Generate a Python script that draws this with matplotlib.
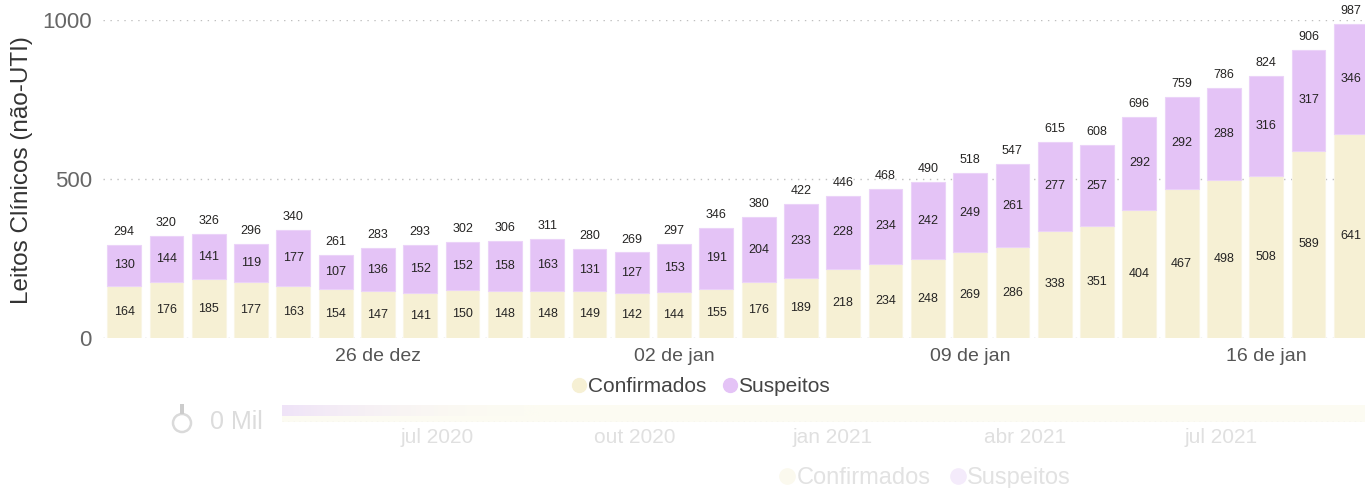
import matplotlib
matplotlib.use("Agg")
import matplotlib.pyplot as plt
import matplotlib.dates as mdates
from matplotlib.lines import Line2D
from matplotlib.patches import Ellipse, Rectangle
import numpy as np
import datetime as dt

# ---------------- data ----------------
dates = [dt.date(2020, 12, 20) + dt.timedelta(days=i) for i in range(30)]
confirmados = [164, 176, 185, 177, 163, 154, 147, 141, 150, 148, 148, 149, 142, 144, 155,
               176, 189, 218, 234, 248, 269, 286, 338, 351, 404, 467, 498, 508, 589, 641]
suspeitos = [130, 144, 141, 119, 177, 107, 136, 152, 152, 158, 163, 131, 127, 153, 191,
             204, 233, 228, 234, 242, 249, 261, 277, 257, 292, 292, 288, 316, 317, 346]
totais = [294, 320, 326, 296, 340, 261, 283, 293, 302, 306, 311, 280, 269, 297, 346,
          380, 422, 446, 468, 490, 518, 547, 615, 608, 696, 759, 786, 824, 906, 987]
xtick_labels = ["26 de dez", "02 de jan", "09 de jan", "16 de jan"]
xtick_idx = [6, 13, 20, 27]
yticks = [0, 500, 1000]
series_names = ["Confirmados", "Suspeitos"]
slider_months = [dt.date(2020, 7, 1), dt.date(2020, 10, 1), dt.date(2021, 1, 1),
                 dt.date(2021, 4, 1), dt.date(2021, 7, 1)]
slider_labels = ["jul 2020", "out 2020", "jan 2021", "abr 2021", "jul 2021"]

C_CONF = "#F6F0D4"
C_SUSP = "#E4C3F6"
FONT = ["Liberation Sans", "DejaVu Sans"]
plt.rcParams["font.family"] = FONT

W, H = 1365, 488
fig = plt.figure(figsize=(W / 100, H / 100), dpi=100)

def fx(px):
    return px / W

def fy(py):
    return 1 - py / H

# ---------------- main axes ----------------
ax = fig.add_axes([fx(103), fy(338), fx(1372 - 103), (338 - 20) / H])
x = np.arange(len(dates))
ax.bar(x, confirmados, width=0.8, color=C_CONF, edgecolor="#F9F5E4", linewidth=0.8, zorder=2)
ax.bar(x, suspeitos, width=0.8, bottom=confirmados, color=C_SUSP, edgecolor="#EBD3F8",
       linewidth=0.8, zorder=2)

ax.set_xlim(-0.5, len(dates) - 0.5)
ax.set_ylim(0, 1000)
for s in ax.spines.values():
    s.set_visible(False)
for yv in yticks:
    ax.axhline(yv, color="#BFBFBF", linestyle=(0, (1, 4)), linewidth=1.0, zorder=1)

ax.set_yticks(yticks)
ax.set_yticklabels([str(v) for v in yticks], fontsize=16, color="#666666")
ax.set_xticks(xtick_idx)
ax.set_xticklabels(xtick_labels, fontsize=14, color="#555555")
ax.tick_params(axis="both", length=0)
ax.tick_params(axis="y", pad=8)
ax.tick_params(axis="x", pad=7)
ax.set_ylabel("Leitos Clínicos (não-UTI)", fontsize=17.5, color="#333333")
ax.yaxis.set_label_coords(-0.055, 0.528)

for i in x:
    ax.text(i, confirmados[i] / 2, str(confirmados[i]), ha="center", va="center",
            fontsize=9, color="#252423", zorder=3)
    ax.text(i, confirmados[i] + suspeitos[i] / 2, str(suspeitos[i]), ha="center",
            va="center", fontsize=9, color="#252423", zorder=3)
    ax.annotate(str(totais[i]), (i, totais[i]), xytext=(0, 5), textcoords="offset points",
                ha="center", va="bottom", fontsize=9, color="#252423",
                annotation_clip=False, zorder=3)

# legend
handles = [Line2D([], [], marker="o", linestyle="", markersize=10, markerfacecolor=c,
                  markeredgecolor=c) for c in (C_CONF, C_SUSP)]
fig.legend(handles, series_names, loc="center", bbox_to_anchor=(fx(701), fy(387)),
           ncol=2, frameon=False, fontsize=15, handlelength=0.7, handletextpad=0.05,
           columnspacing=0.8, labelcolor="#444444")

# ---------------- faded slider ----------------
sax = fig.add_axes([fx(282), fy(422), fx(1365 - 282), 17 / H])
d0 = mdates.date2num(dt.date(2020, 4, 20))
d1 = mdates.date2num(dt.date(2021, 9, 6))
sax.set_xlim(d0, d1)
sax.set_ylim(0, 1)
sax.axhspan(0, 1, color="#FCFBF2", zorder=0)
grad = np.linspace(1, 0, 256)[None, :] ** 2
sax.imshow(grad, extent=[d0, d0 + 120, 0.35, 1], aspect="auto",
           cmap=matplotlib.colors.LinearSegmentedColormap.from_list(
               "g", ["#FCFBF2", "#EFE3F8"]), zorder=1)
sax.axhline(0, color="#E6E6E6", linestyle=(0, (1, 3)), linewidth=1)
for s in sax.spines.values():
    s.set_visible(False)
sax.set_yticks([])
sax.set_xticks([mdates.date2num(m) for m in slider_months])
sax.set_xticklabels(slider_labels, fontsize=15, color="#E0E0E0")
sax.tick_params(axis="x", length=0, pad=4)

fig.text(fx(236), fy(422), "0 Mil", ha="center", va="center", fontsize=18, color="#DCDCDC")
fig.patches.append(Ellipse((fx(182), fy(423)), 18 / W, 18 / H, transform=fig.transFigure,
                           facecolor="white", edgecolor="#DADADA", linewidth=1.8,
                           figure=fig))
fig.patches.append(Rectangle((fx(179.5), fy(414)), 5 / W, 10 / H, transform=fig.transFigure,
                             facecolor="#CCCCCC", edgecolor="none", figure=fig))

handles2 = [Line2D([], [], marker="o", linestyle="", markersize=11, markerfacecolor=c,
                   markeredgecolor=c) for c in ("#FBF9EE", "#F4EBFB")]
fig.legend(handles2, series_names, loc="center", bbox_to_anchor=(fx(925), fy(478)),
           ncol=2, frameon=False, fontsize=17, handlelength=0.7, handletextpad=0.05,
           columnspacing=0.8, labelcolor="#E2E2E2")

fig.savefig("out.png", dpi=100)
